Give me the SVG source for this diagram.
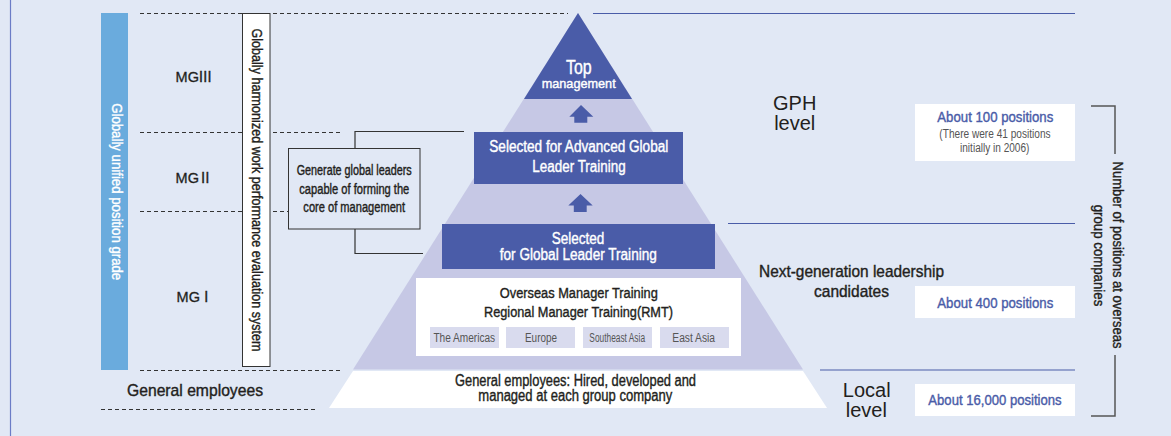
<svg xmlns="http://www.w3.org/2000/svg" width="1171" height="436" viewBox="0 0 1171 436">
<style>
.c{font-family:"Liberation Sans Narrow","Liberation Sans",Arial,sans-serif;text-anchor:middle}
.a{font-family:"Liberation Sans",Arial,sans-serif;text-anchor:middle;fill:#231f20}
.dk{fill:#231f20}
.w{fill:#fff}
.bl{fill:#4a5ca8}
.gr{fill:#555}
.m{stroke-width:0.4}
.dk.m{stroke:#231f20}
.w.m{stroke:#fff}
.bl.m{stroke:#4a5ca8}
.dash{stroke:#333;stroke-width:1;stroke-dasharray:4 3;fill:none}
.rule{stroke:#4a5ca8;stroke-width:1.2;fill:none}
.brk{stroke:#333;stroke-width:1.2;fill:none}
.navy{fill:#4a5ca8}
.reg{fill:#d9dbee}
</style>
<rect x="0" y="0" width="1171" height="436" fill="#e1e8f5"/>
<line x1="10.5" y1="0" x2="10.5" y2="436" stroke="#6b7cc6" stroke-width="1.2"/>

<g id="guides">
  <line class="dash" x1="140" y1="13.5" x2="568" y2="13.5"/>
  <line class="dash" x1="140" y1="132.5" x2="343" y2="132.5"/>
  <line class="dash" x1="140" y1="211.5" x2="288" y2="211.5"/>
  <line class="dash" x1="140" y1="370.5" x2="340" y2="370.5"/>
  <line class="dash" x1="101" y1="409.5" x2="316" y2="409.5"/>
  <line class="rule" x1="593" y1="13.5" x2="1075" y2="13.5"/>
  <line class="rule" x1="728" y1="223.5" x2="1075" y2="223.5"/>
  <line class="rule" x1="820" y1="370" x2="1075" y2="370"/>
</g>

<g id="grade-bar">
  <rect x="101" y="13" width="27" height="357" fill="#6aabdd"/>
  <text class="c w m" font-size="15" textLength="177" lengthAdjust="spacingAndGlyphs" transform="translate(111.5,191.7) rotate(90)">Globally unified position grade</text>
</g>

<g id="eval-system">
  <rect x="242.5" y="13.5" width="27.5" height="353" fill="#fff" stroke="#333" stroke-width="1"/>
  <text class="c dk m" font-size="15.5" textLength="323" lengthAdjust="spacingAndGlyphs" transform="translate(252,190) rotate(90)">Globally harmonized work performance evaluation system</text>
</g>

<g id="mg-labels">
  <text class="a" x="194" y="82.3" font-size="14.5" stroke="#231f20" stroke-width="0.3">MG<tspan dx="-1" font-family="'Noto Sans CJK JP',sans-serif">Ⅲ</tspan></text>
  <text class="a" x="194" y="183.3" font-size="14.5" stroke="#231f20" stroke-width="0.3">MG<tspan dx="-1" font-family="'Noto Sans CJK JP',sans-serif">Ⅱ</tspan></text>
  <text class="a" x="195" y="301.7" font-size="14.5" stroke="#231f20" stroke-width="0.3">MG<tspan dx="-1" font-family="'Noto Sans CJK JP',sans-serif">Ⅰ</tspan></text>
  <text class="c dk m" x="195" y="395.7" font-size="17" textLength="136" lengthAdjust="spacingAndGlyphs">General employees</text>
</g>

<g id="goal-note">
  <rect x="288.5" y="148.5" width="131.5" height="80.5" fill="#e1e8f5" stroke="#333" stroke-width="1"/>
  <text class="c dk m" x="354.2" y="175" font-size="14" textLength="115" lengthAdjust="spacingAndGlyphs">Generate global leaders</text>
  <text class="c dk m" x="354.3" y="193.5" font-size="14" textLength="110" lengthAdjust="spacingAndGlyphs">capable of forming the</text>
  <text class="c dk m" x="354.2" y="212" font-size="14" textLength="101.7" lengthAdjust="spacingAndGlyphs">core of management</text>
</g>

<g id="pyramid">
  <polygon points="578,13 353,369.5 803,369.5" fill="#c6c8e5"/>
  <polygon points="353,371 803,371 827,408 329,408" fill="#fff"/>
</g>

<g id="top-management">
  <polygon points="578,13 524,99 632,99" class="navy"/>
  <text class="c w m" x="578.8" y="74" font-size="20" textLength="25.7" lengthAdjust="spacingAndGlyphs">Top</text>
  <text class="c w m" x="578.7" y="88" font-size="13" textLength="74" lengthAdjust="spacingAndGlyphs">management</text>
</g>

<g id="advanced-training">
  <rect x="474" y="132" width="209" height="52" class="navy"/>
  <text class="c w m" x="578.8" y="152.3" font-size="16" textLength="179" lengthAdjust="spacingAndGlyphs">Selected for Advanced Global</text>
  <text class="c w m" x="579" y="171.7" font-size="16" textLength="93.3" lengthAdjust="spacingAndGlyphs">Leader Training</text>
</g>

<g id="global-training">
  <rect x="442" y="224" width="273" height="45" class="navy"/>
  <text class="c w m" x="578" y="244" font-size="16" textLength="52.6" lengthAdjust="spacingAndGlyphs">Selected</text>
  <text class="c w m" x="578.3" y="260" font-size="16" textLength="157" lengthAdjust="spacingAndGlyphs">for Global Leader Training</text>
</g>

<g id="regional-training">
  <rect x="416" y="278" width="325" height="78" fill="#fff"/>
  <text class="c dk m" x="578.8" y="298" font-size="15.5" textLength="158" lengthAdjust="spacingAndGlyphs">Overseas Manager Training</text>
  <text class="c dk m" x="578.5" y="316.5" font-size="15.5" textLength="189" lengthAdjust="spacingAndGlyphs">Regional Manager Training(RMT)</text>
  <rect class="reg" x="430" y="327" width="69" height="21"/>
  <rect class="reg" x="506" y="327" width="69" height="21"/>
  <rect class="reg" x="583" y="327" width="69" height="21"/>
  <rect class="reg" x="660" y="327" width="69" height="21"/>
  <text class="c gr" x="464.3" y="341.5" font-size="12.5" textLength="61.7" lengthAdjust="spacingAndGlyphs">The Americas</text>
  <text class="c gr" x="541" y="341.5" font-size="12.5" textLength="32" lengthAdjust="spacingAndGlyphs">Europe</text>
  <text class="c gr" x="617.2" y="341.5" font-size="12.5" textLength="55.7" lengthAdjust="spacingAndGlyphs">Southeast Asia</text>
  <text class="c gr" x="693.7" y="341.5" font-size="12.5" textLength="42.7" lengthAdjust="spacingAndGlyphs">East Asia</text>
</g>

<g id="general-employees">
  <text class="c dk m" x="575.5" y="385.7" font-size="16" textLength="241" lengthAdjust="spacingAndGlyphs">General employees: Hired, developed and</text>
  <text class="c dk m" x="575.3" y="400.7" font-size="16" textLength="194" lengthAdjust="spacingAndGlyphs">managed at each group company</text>
</g>

<g id="arrows">
  <polygon class="navy" points="581,105 593.3,116.7 587.3,116.7 587.3,122.7 574.3,122.7 574.3,116.7 569.3,116.7"/>
  <polygon class="navy" points="580.5,194 592.7,205.5 586.7,205.5 586.7,212 573.8,212 573.8,205.5 568.3,205.5"/>
</g>

<g id="connectors">
  <polyline class="brk" points="355,148 355,131.5 464,131.5"/>
  <polyline class="brk" points="355,229 355,253.5 423,253.5"/>
  <polyline points="1091,106 1115,106 1115,154" fill="none" stroke="#555" stroke-width="1.5"/>
  <polyline points="1115,355 1115,416 1091,416" fill="none" stroke="#555" stroke-width="1.5"/>
</g>

<g id="level-labels">
  <text class="a" x="794.7" y="110" font-size="20">GPH</text>
  <text class="a" x="794.7" y="130" font-size="20">level</text>
  <text class="c dk m" x="851.5" y="276.7" font-size="17" textLength="185" lengthAdjust="spacingAndGlyphs">Next-generation leadership</text>
  <text class="c dk m" x="851.5" y="296.7" font-size="17" textLength="75" lengthAdjust="spacingAndGlyphs">candidates</text>
  <text class="a" x="866.7" y="396.7" font-size="20">Local</text>
  <text class="a" x="866.3" y="416.5" font-size="20">level</text>
</g>

<g id="count-gph">
  <rect x="915" y="104" width="160" height="57" fill="#fff"/>
  <text class="c bl m" x="995.3" y="122.3" font-size="15" textLength="116" lengthAdjust="spacingAndGlyphs">About 100 positions</text>
  <text class="c gr" x="995" y="138.3" font-size="12.5" textLength="111.3" lengthAdjust="spacingAndGlyphs">(There were 41 positions</text>
  <text class="c gr" x="994.7" y="151.7" font-size="12.5" textLength="69.3" lengthAdjust="spacingAndGlyphs">initially in 2006)</text>
</g>

<g id="count-next">
  <rect x="915" y="286" width="160" height="32" fill="#fff"/>
  <text class="c bl m" x="995.3" y="308.3" font-size="15" textLength="116" lengthAdjust="spacingAndGlyphs">About 400 positions</text>
</g>

<g id="count-local">
  <rect x="915" y="384" width="160" height="32" fill="#fff"/>
  <text class="c bl m" x="995" y="405" font-size="15" textLength="133.3" lengthAdjust="spacingAndGlyphs">About 16,000 positions</text>
</g>

<g id="count-title">
  <text class="c dk m" font-size="15" textLength="187" lengthAdjust="spacingAndGlyphs" transform="translate(1113,255) rotate(90)">Number of positions at overseas</text>
  <text class="c dk m" font-size="15" textLength="101.5" lengthAdjust="spacingAndGlyphs" transform="translate(1094,255.5) rotate(90)">group companies</text>
</g>
</svg>
